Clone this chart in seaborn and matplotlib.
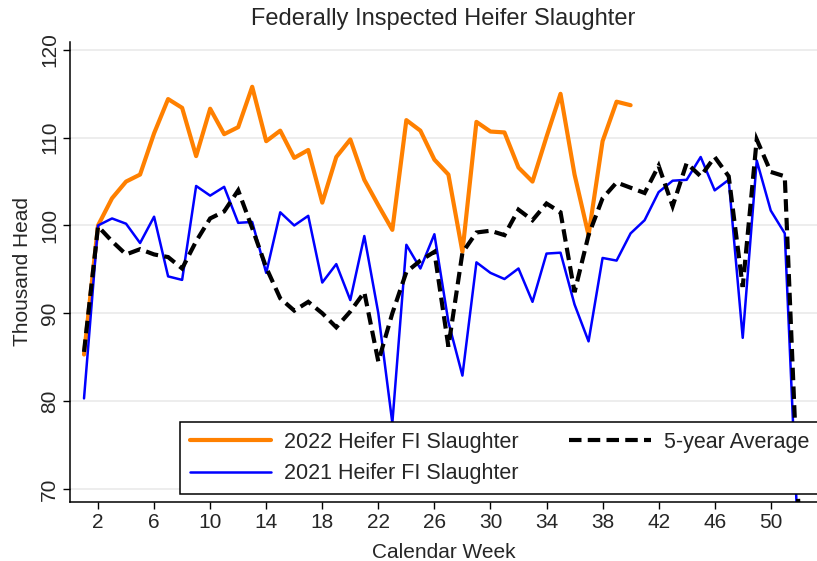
import numpy as np
import pandas as pd
import seaborn as sns
import matplotlib.pyplot as plt

sns.set_style("white")
plt.rcParams["font.family"] = ["Liberation Sans", "DejaVu Sans"]

# weekly heifer slaughter, thousand head
weeks_2022 = list(range(1, 41))
heifer_2022 = [85.3, 100.0, 103.1, 105.0, 105.8, 110.5, 114.4, 113.4, 107.9, 113.3,
               110.4, 111.2, 115.8, 109.6, 110.8, 107.7, 108.6, 102.6, 107.8, 109.8,
               105.2, 102.3, 99.5, 112.0, 110.8, 107.5, 105.8, 97.0, 111.8, 110.7,
               110.6, 106.6, 105.0, 110.1, 115.0, 105.8, 98.9, 109.6, 114.1, 113.7]

weeks_full = list(range(1, 53))
heifer_2021 = [80.3, 100.0, 100.8, 100.2, 98.0, 101.0, 94.2, 93.8, 104.5, 103.4,
               104.4, 100.3, 100.4, 94.6, 101.5, 100.0, 101.1, 93.5, 95.6, 91.5,
               98.8, 90.0, 77.5, 97.8, 95.1, 99.0, 89.0, 82.9, 95.8, 94.6,
               93.9, 95.1, 91.3, 96.8, 96.9, 91.0, 86.8, 96.3, 96.0, 99.1,
               100.6, 103.8, 105.1, 105.2, 107.8, 104.0, 105.2, 87.2, 107.4, 101.7,
               99.1, 62.5]
avg_5yr = [85.6, 99.9, 98.2, 96.7, 97.3, 96.7, 96.4, 95.1, 98.2, 100.8,
           101.6, 104.0, 99.7, 95.2, 91.7, 90.3, 91.3, 90.0, 88.4, 90.2,
           92.4, 84.5, 90.0, 94.7, 96.0, 97.0, 86.2, 96.9, 99.2, 99.4,
           98.9, 101.8, 100.6, 102.5, 101.5, 92.4, 98.9, 103.1, 104.9, 104.3,
           103.7, 106.8, 102.2, 107.1, 105.6, 107.8, 105.6, 93.0, 109.8, 106.1,
           105.6, 67.0]

df22 = pd.DataFrame({"week": weeks_2022, "head": heifer_2022})
df21 = pd.DataFrame({"week": weeks_full, "head": heifer_2021})
dfavg = pd.DataFrame({"week": weeks_full, "head": avg_5yr})

fig = plt.figure(figsize=(8.17, 5.61), dpi=100)
ax = fig.add_axes([70 / 817, 59 / 561, 747 / 817, 460 / 561])

ax.grid(axis="y", color="#e8e8e8", linewidth=1.1)
ax.set_axisbelow(True)

sns.lineplot(data=df22, x="week", y="head", ax=ax, color="#ff8000", linewidth=3.0,
             label="2022 Heifer FI Slaughter")
sns.lineplot(data=df21, x="week", y="head", ax=ax, color="#0000ff", linewidth=1.8,
             label="2021 Heifer FI Slaughter")
sns.lineplot(data=dfavg, x="week", y="head", ax=ax, color="black", linewidth=3.0,
             dashes=False, label="5-year Average")
avg_line = ax.get_lines()[-1]
avg_line.set_dashes((3, 1.5))
avg_line.set_dash_joinstyle("miter")
avg_line.set_dash_capstyle("butt")

ax.set_xlim(0, 53.3)
ax.set_ylim(68.5, 120.9)
ax.set_xticks(range(2, 51, 4))
ax.set_yticks(range(70, 121, 10))

for side in ["top", "right"]:
    ax.spines[side].set_visible(False)
for side in ["left", "bottom"]:
    ax.spines[side].set_color("black")
    ax.spines[side].set_linewidth(1.1)

ax.tick_params(axis="both", direction="out", length=5, width=1, color="black",
               labelsize=15, bottom=True, left=True)
ax.tick_params(axis="x", pad=3)
ax.tick_params(axis="y", pad=3)
for lbl in ax.get_yticklabels():
    lbl.set_rotation(90)
    lbl.set_va("center")

ax.set_xlabel("Calendar Week", fontsize=15, labelpad=8)
ax.set_ylabel("Thousand Head", fontsize=15, labelpad=6)
ax.set_title("Federally Inspected Heifer Slaughter", fontsize=17, pad=12)

leg = ax.legend(loc="lower left", bbox_to_anchor=(180 / 817, 67 / 561, 639 / 817, 0.12),
                bbox_transform=fig.transFigure, mode="expand", ncol=2, fontsize=15.5,
                frameon=True, fancybox=False, borderpad=0.45, labelspacing=0.48,
                handlelength=3.8, handletextpad=0.6, borderaxespad=0)
leg.get_frame().set_edgecolor("black")
leg.get_frame().set_linewidth(1.1)
leg.get_frame().set_alpha(1)

fig.savefig("out.png", dpi=100)
